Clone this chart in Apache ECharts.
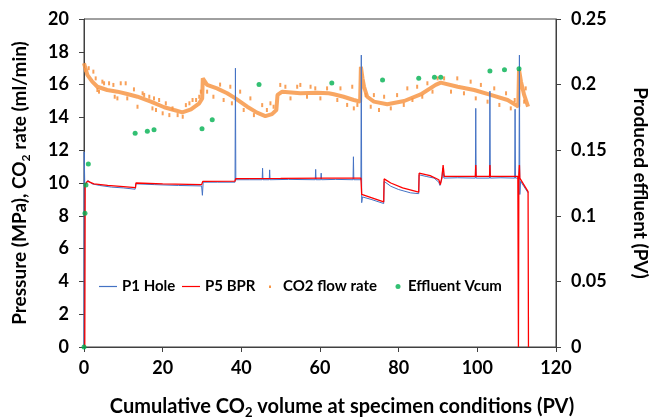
<!DOCTYPE html>
<html>
<head>
<meta charset="utf-8">
<script src="https://cdn.jsdelivr.net/npm/echarts@6/dist/echarts.min.js"></script>
<style>html,body{margin:0;padding:0;background:#fff}#c{width:651px;height:418px}</style>
</head>
<body>
<div id="c"></div>
<script>
// ---- data (x = cumulative CO2 PV) ----
var xTicks = [0, 20, 40, 60, 80, 100, 120];
var p1Hole = [[0,0],[0.05,11.9],[0.2,9.8],[0.5,10.0],[1.0,10.15],[2,9.95],[4,9.85],[7,9.75],[10,9.7],[13,9.62],[13.2,9.95],[18,9.9],[24,9.85],[29.9,9.82],[30.1,9.25],[30.3,10.05],[34,10.05],[38.4,10.05],[38.5,17.0],[38.6,10.2],[42,10.2],[45.3,10.2],[45.4,10.9],[45.5,10.2],[47.1,10.2],[47.2,10.8],[47.3,10.2],[52,10.22],[58.8,10.2],[58.9,10.83],[59,10.2],[60.2,10.2],[60.3,10.6],[60.4,10.2],[64,10.22],[68.4,10.2],[68.5,11.6],[68.6,10.2],[70.4,10.2],[70.5,17.8],[70.6,8.8],[70.8,9.15],[73,9.0],[76.2,8.75],[76.3,10.1],[78,9.8],[80,9.6],[83,9.4],[85.1,9.35],[85.2,10.5],[87,10.4],[89,10.3],[90.2,10.05],[90.5,9.85],[91.0,10.3],[91.2,10.9],[91.5,10.3],[95,10.32],[99.5,10.3],[99.6,14.55],[99.7,10.3],[103.1,10.3],[103.2,15.6],[103.3,10.3],[106,10.32],[109.5,10.3],[109.6,14.5],[109.7,10.3],[110.6,10.3],[110.7,17.8],[110.8,9.3],[111,10.1],[112.9,9.4]];
var p5BPR = [[0.2,0],[0.3,9.9],[0.9,10.12],[2.5,9.95],[6,9.85],[10,9.78],[13.1,9.72],[13.2,10.0],[20,9.95],[29.9,9.9],[30.2,10.1],[38.4,10.12],[38.6,10.27],[50,10.28],[62,10.3],[70.4,10.3],[70.6,9.3],[76.2,8.85],[76.3,10.25],[78,10.0],[81,9.7],[85.1,9.45],[85.2,10.6],[88,10.45],[90.2,10.2],[90.6,9.9],[91,10.35],[91.3,11.1],[91.6,10.4],[99.5,10.4],[99.6,11.1],[99.7,10.4],[103.1,10.4],[103.2,11.1],[103.3,10.4],[110.3,10.4],[110.45,0],[110.55,10.5],[110.7,11.1],[110.8,10.3],[112.9,9.47],[113.0,0]];
var co2Core = [[0,17.3],[0.85,16.59],[2.1,16.18],[3.4,15.87],[5.9,15.67],[8.5,15.57],[11,15.43],[13.6,15.26],[17,14.96],[20.4,14.62],[22.9,14.45],[25,14.31],[27.2,14.49],[29.3,14.86],[30.05,15.16],[30.2,16.38],[31.3,15.98],[33.8,15.77],[36.4,15.47],[38.5,15.16],[41.5,14.65],[44,14.29],[46.1,14.08],[47.8,14.2],[48.9,14.45],[49.2,15.37],[50.4,15.57],[55,15.47],[59.3,15.51],[62.2,15.47],[63.5,15.41],[66,15.26],[68.6,15.06],[70.2,14.96],[70.4,17.09],[70.8,16.38],[71.2,15.87],[72.0,15.26],[73.7,14.96],[77.1,14.8],[81.4,15.0],[85.6,15.4],[89.4,15.98],[90.7,16.12],[95,15.87],[99.2,15.67],[103.4,15.37],[107.7,15.06],[109.8,14.76],[110.4,14.65],[110.6,16.9],[111.1,16.18],[111.9,15.37],[112.9,14.65]];
var co2Scatter = [[0.3,16.9],[1.2,17.0],[2.38,16.79],[2.97,16.38],[3.4,15.67],[3.82,15.57],[4.67,16.18],[5.1,16.08],[6.37,16.08],[7.47,15.98],[7.81,15.26],[8.49,15.16],[9.34,16.08],[10.6,16.08],[11.0,15.16],[12.7,15.71],[13.6,14.65],[14.9,15.47],[15.3,15.37],[16.6,15.26],[17.4,14.55],[17.8,15.16],[18.3,14.45],[19.1,15.06],[20.0,14.25],[20.8,14.86],[21.7,14.14],[22.5,14.55],[23.8,14.14],[25.1,14.04],[25.9,14.75],[26.8,14.86],[27.6,15.06],[28.5,15.06],[29.3,15.26],[29.7,15.57],[31.3,15.57],[32.9,15.26],[34.6,16.0],[35.5,15.06],[37.2,15.87],[37.6,14.86],[39.7,15.57],[40.6,14.45],[42.3,15.16],[43.2,14.14],[45.3,14.75],[46.5,14.45],[47.4,14.86],[48.2,14.65],[49.9,15.98],[51.2,15.87],[52.5,15.16],[54.2,15.87],[55.0,15.98],[56.7,15.26],[57.6,15.87],[58.8,15.77],[60.1,15.16],[61.8,15.77],[64.4,15.06],[65.2,15.77],[66.9,14.76],[68.2,15.87],[68.6,14.55],[69.5,14.76],[71.6,15.36],[72.9,14.65],[73.7,15.36],[75.0,14.45],[76.3,15.26],[78.0,14.55],[79.6,15.36],[81.3,14.76],[82.2,15.77],[83.5,15.06],[84.7,15.87],[86.0,15.26],[87.3,16.08],[88.6,15.57],[89.9,16.38],[91.55,16.38],[93.3,15.57],[94.9,16.38],[96.6,15.47],[98.3,16.18],[99.6,15.16],[100.9,15.98],[102.6,14.96],[104.3,15.77],[105.6,14.76],[107.3,15.47],[108.5,14.55],[109.5,15.06],[111.9,14.96],[112.3,15.77]];
var effluent = [[0,0],[0.25,0.102],[0.5,0.1235],[1.1,0.1395],[13,0.163],[16.1,0.1644],[17.8,0.1656],[30,0.1664],[32.6,0.1733],[44.5,0.2],[63,0.2012],[75.9,0.2035],[85.1,0.2048],[89.1,0.2056],[90.7,0.2056],[103.2,0.2104],[106.9,0.2114],[110.6,0.2121]];

var FONT = 'Lato';
var axisCol = '#404040';
var lblStyle = {fontFamily: FONT, fontWeight: 'bold', fontSize: 18, color: '#000'};
function nameStyle(size, extra) {
  return Object.assign({fontFamily: FONT, fontWeight: 'bold', fontSize: size, color: '#000',
    rich: {s: {fontFamily: FONT, fontWeight: 'bold', fontSize: Math.round(size * 0.63), color: '#000', verticalAlign: 'bottom', lineHeight: Math.round(size * 1.26)}}}, extra || {});
}
var legText = {fontFamily: FONT, fontWeight: 'bold', fontSize: 15, color: '#000'};
var lineIcon = 'path://M0,0 M18,10 M0,4.4 h18 v1.2 h-18 z';

var chart = echarts.init(document.getElementById('c'));
chart.setOption({
  animation: false,
  backgroundColor: '#fff',
  grid: {left: 84, right: 95, top: 19, bottom: 71, outerBoundsMode: 'none', containLabel: false,
    show: true, borderColor: axisCol, borderWidth: 1, backgroundColor: 'transparent'},
  legend: [
    {data: [{name: 'P1 Hole', icon: lineIcon}], left: 99, top: 279, padding: 0, itemWidth: 18, itemHeight: 10, textStyle: legText},
    {data: [{name: 'P5 BPR', icon: lineIcon}], left: 182, top: 279, padding: 0, itemWidth: 18, itemHeight: 10, textStyle: legText},
    {data: [{name: 'CO2 flow rate', icon: 'path://M0,0 M12,10 M3,4 h2 v2.5 h-2 z'}], left: 266, top: 279, padding: 0, itemWidth: 12, itemHeight: 10, textStyle: legText},
    {data: [{name: 'Effluent Vcum', icon: 'path://M0,0 M8,10 M5.5,5 A2.5,2.5 0 1 1 0.5,5 A2.5,2.5 0 1 1 5.5,5 Z'}], left: 395, top: 279, padding: 0, itemWidth: 8, itemHeight: 10, textStyle: legText}
  ],
  xAxis: {
    type: 'value', min: xTicks[0], max: xTicks[xTicks.length - 1], interval: 20,
    name: 'Cumulative CO{s|2} volume at specimen conditions (PV)', nameLocation: 'middle', nameGap: 47,
    nameTextStyle: nameStyle(20, {padding: [0, 0, 0, 44]}),
    axisLine: {lineStyle: {color: axisCol, width: 1}},
    axisTick: {show: true, inside: false, length: 5, lineStyle: {color: axisCol}},
    axisLabel: Object.assign({margin: 12}, lblStyle),
    splitLine: {show: false}
  },
  yAxis: [
    {
      type: 'value', min: 0, max: 20, interval: 2,
      name: 'Pressure (MPa), CO{s|2} rate (ml/min)', nameLocation: 'middle', nameRotate: 90, nameGap: 52,
      nameTextStyle: nameStyle(19),
      axisLine: {show: true, lineStyle: {color: axisCol, width: 1}},
      axisTick: {show: true, inside: false, length: 5, lineStyle: {color: axisCol}},
      axisLabel: Object.assign({margin: 15}, lblStyle),
      splitLine: {show: false}
    },
    {
      type: 'value', min: 0, max: 0.25, interval: 0.05, position: 'right',
      name: 'Produced effluent (PV)', nameLocation: 'middle', nameRotate: -90, nameGap: 75,
      nameTextStyle: nameStyle(19),
      axisLine: {show: true, lineStyle: {color: axisCol, width: 1}},
      axisTick: {show: true, inside: false, length: 5, lineStyle: {color: axisCol}},
      axisLabel: Object.assign({margin: 15}, lblStyle),
      splitLine: {show: false}
    }
  ],
  series: [
    {name: 'CO2 flow rate', type: 'line', data: co2Core, symbol: 'none', z: 1,
      lineStyle: {color: '#F79646', width: 4, opacity: 0.85}, itemStyle: {color: '#F79646'}},
    {name: 'CO2 flow rate', type: 'scatter', data: co2Scatter, symbol: 'rect', symbolSize: [2, 4], z: 1,
      itemStyle: {color: '#F79646', opacity: 0.9}},
    {name: 'P1 Hole', type: 'line', data: p1Hole, symbol: 'none', z: 2,
      lineStyle: {color: '#4472C4', width: 1}, itemStyle: {color: '#4472C4'}},
    {name: 'P5 BPR', type: 'line', data: p5BPR, symbol: 'none', z: 3,
      lineStyle: {color: '#FF0000', width: 1.3}, itemStyle: {color: '#FF0000'}},
    {name: 'Effluent Vcum', type: 'scatter', yAxisIndex: 1, data: effluent, symbol: 'circle', symbolSize: 5, z: 4,
      itemStyle: {color: '#00B050'}}
  ]
});
</script>
</body>
</html>
